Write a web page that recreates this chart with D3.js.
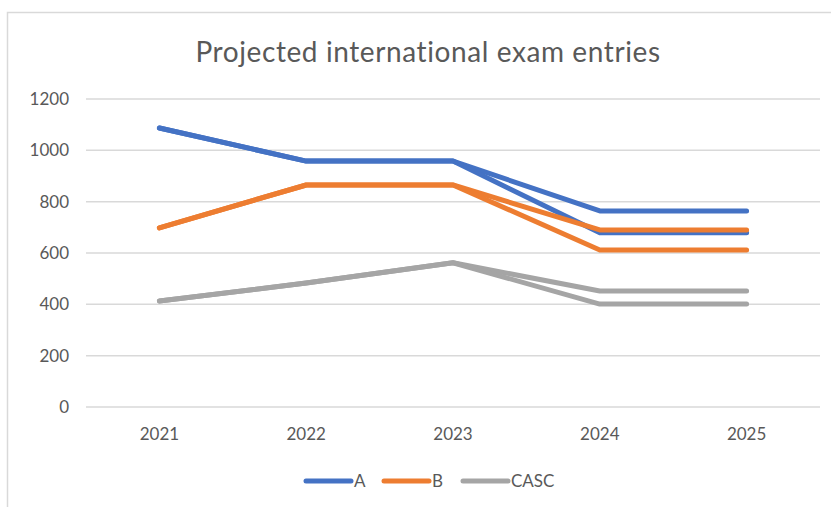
<!DOCTYPE html>
<html>
<head>
<meta charset="utf-8">
<script src="https://cdn.jsdelivr.net/npm/d3@7"></script>
<style>
  body { margin: 0; background: #fff; }
  text { font-family: Lato, "Open Sans", sans-serif; fill: #595959; }
</style>
</head>
<body>
<svg width="831" height="507"></svg>
<script>
// data
var years = ["2021", "2022", "2023", "2024", "2025"];
var yTicks = [0, 200, 400, 600, 800, 1000, 1200];
var seriesNames = ["A", "B", "CASC"];
var colors = ["#4472C4", "#ED7D31", "#A5A5A5"];

// each series has a high and a low projection that split after 2023
var aHigh = [1087, 958, 958, 764, 764];
var aLow = [1087, 958, 958, 679, 679];
var bHigh = [698, 865, 865, 690, 690];
var bLow = [698, 865, 865, 612, 612];
var cascHigh = [413, 483, 562, 452, 452];
var cascLow = [413, 483, 562, 401, 401];

var lines = [
	{ name: "A", values: aHigh }, { name: "A", values: aLow },
	{ name: "B", values: bHigh }, { name: "B", values: bLow },
	{ name: "CASC", values: cascHigh }, { name: "CASC", values: cascLow }
];

var svg = d3.select("svg");

// chart border
svg.append("rect")
	.attr("x", 7.5).attr("y", 12.5)
	.attr("width", 840).attr("height", 520)
	.attr("fill", "none")
	.attr("stroke", "#D9D9D9")
	.attr("stroke-width", 1.5);

var x = d3.scaleBand().domain(years).range([86, 820]);
var y = d3.scaleLinear().domain([0, 1200]).range([407, 99]);
var color = d3.scaleOrdinal().domain(seriesNames).range(colors);

// title
svg.append("text")
	.attr("x", 428).attr("y", 62)
	.attr("text-anchor", "middle")
	.attr("font-size", 28)
	.attr("letter-spacing", 0.6)
	.text("Projected international exam entries");

// gridlines
svg.append("g")
	.selectAll("line")
	.data(yTicks)
	.enter()
	.append("line")
	.attr("x1", 86).attr("x2", 820)
	.attr("y1", function (d) { return y(d); })
	.attr("y2", function (d) { return y(d); })
	.attr("stroke", "#D9D9D9")
	.attr("stroke-width", 1.5);

// y axis
var yAxis = svg.append("g")
	.attr("transform", "translate(69,0)")
	.call(d3.axisLeft(y).tickValues(yTicks).tickFormat(d3.format("d")).tickSize(0).tickPadding(0));
yAxis.select(".domain").remove();
yAxis.selectAll("text").attr("font-size", 17).attr("fill", "#595959");

// x axis
var xAxis = svg.append("g")
	.attr("transform", "translate(0,428)")
	.call(d3.axisBottom(x).tickSize(0).tickPadding(0));
xAxis.select(".domain").remove();
xAxis.selectAll("text").attr("font-size", 17).attr("fill", "#595959");

// lines
var line = d3.line()
	.x(function (d, i) { return x(years[i]) + x.bandwidth() / 2; })
	.y(function (d) { return y(d); });

svg.append("g")
	.selectAll("path")
	.data(lines)
	.enter()
	.append("path")
	.attr("d", function (d) { return line(d.values); })
	.attr("fill", "none")
	.attr("stroke", function (d) { return color(d.name); })
	.attr("stroke-width", 5)
	.attr("stroke-linecap", "round")
	.attr("stroke-linejoin", "round");

// legend
var legendX = [304, 382, 461];
var legend = svg.append("g")
	.selectAll("g")
	.data(seriesNames)
	.enter()
	.append("g")
	.attr("transform", function (d, i) { return "translate(" + legendX[i] + ",481)"; });

legend.append("line")
	.attr("x1", 2).attr("x2", 47)
	.attr("stroke", function (d) { return color(d); })
	.attr("stroke-width", 5)
	.attr("stroke-linecap", "round");

legend.append("text")
	.attr("x", 50).attr("y", 6)
	.attr("font-size", 17)
	.text(function (d) { return d; });
</script>
</body>
</html>
